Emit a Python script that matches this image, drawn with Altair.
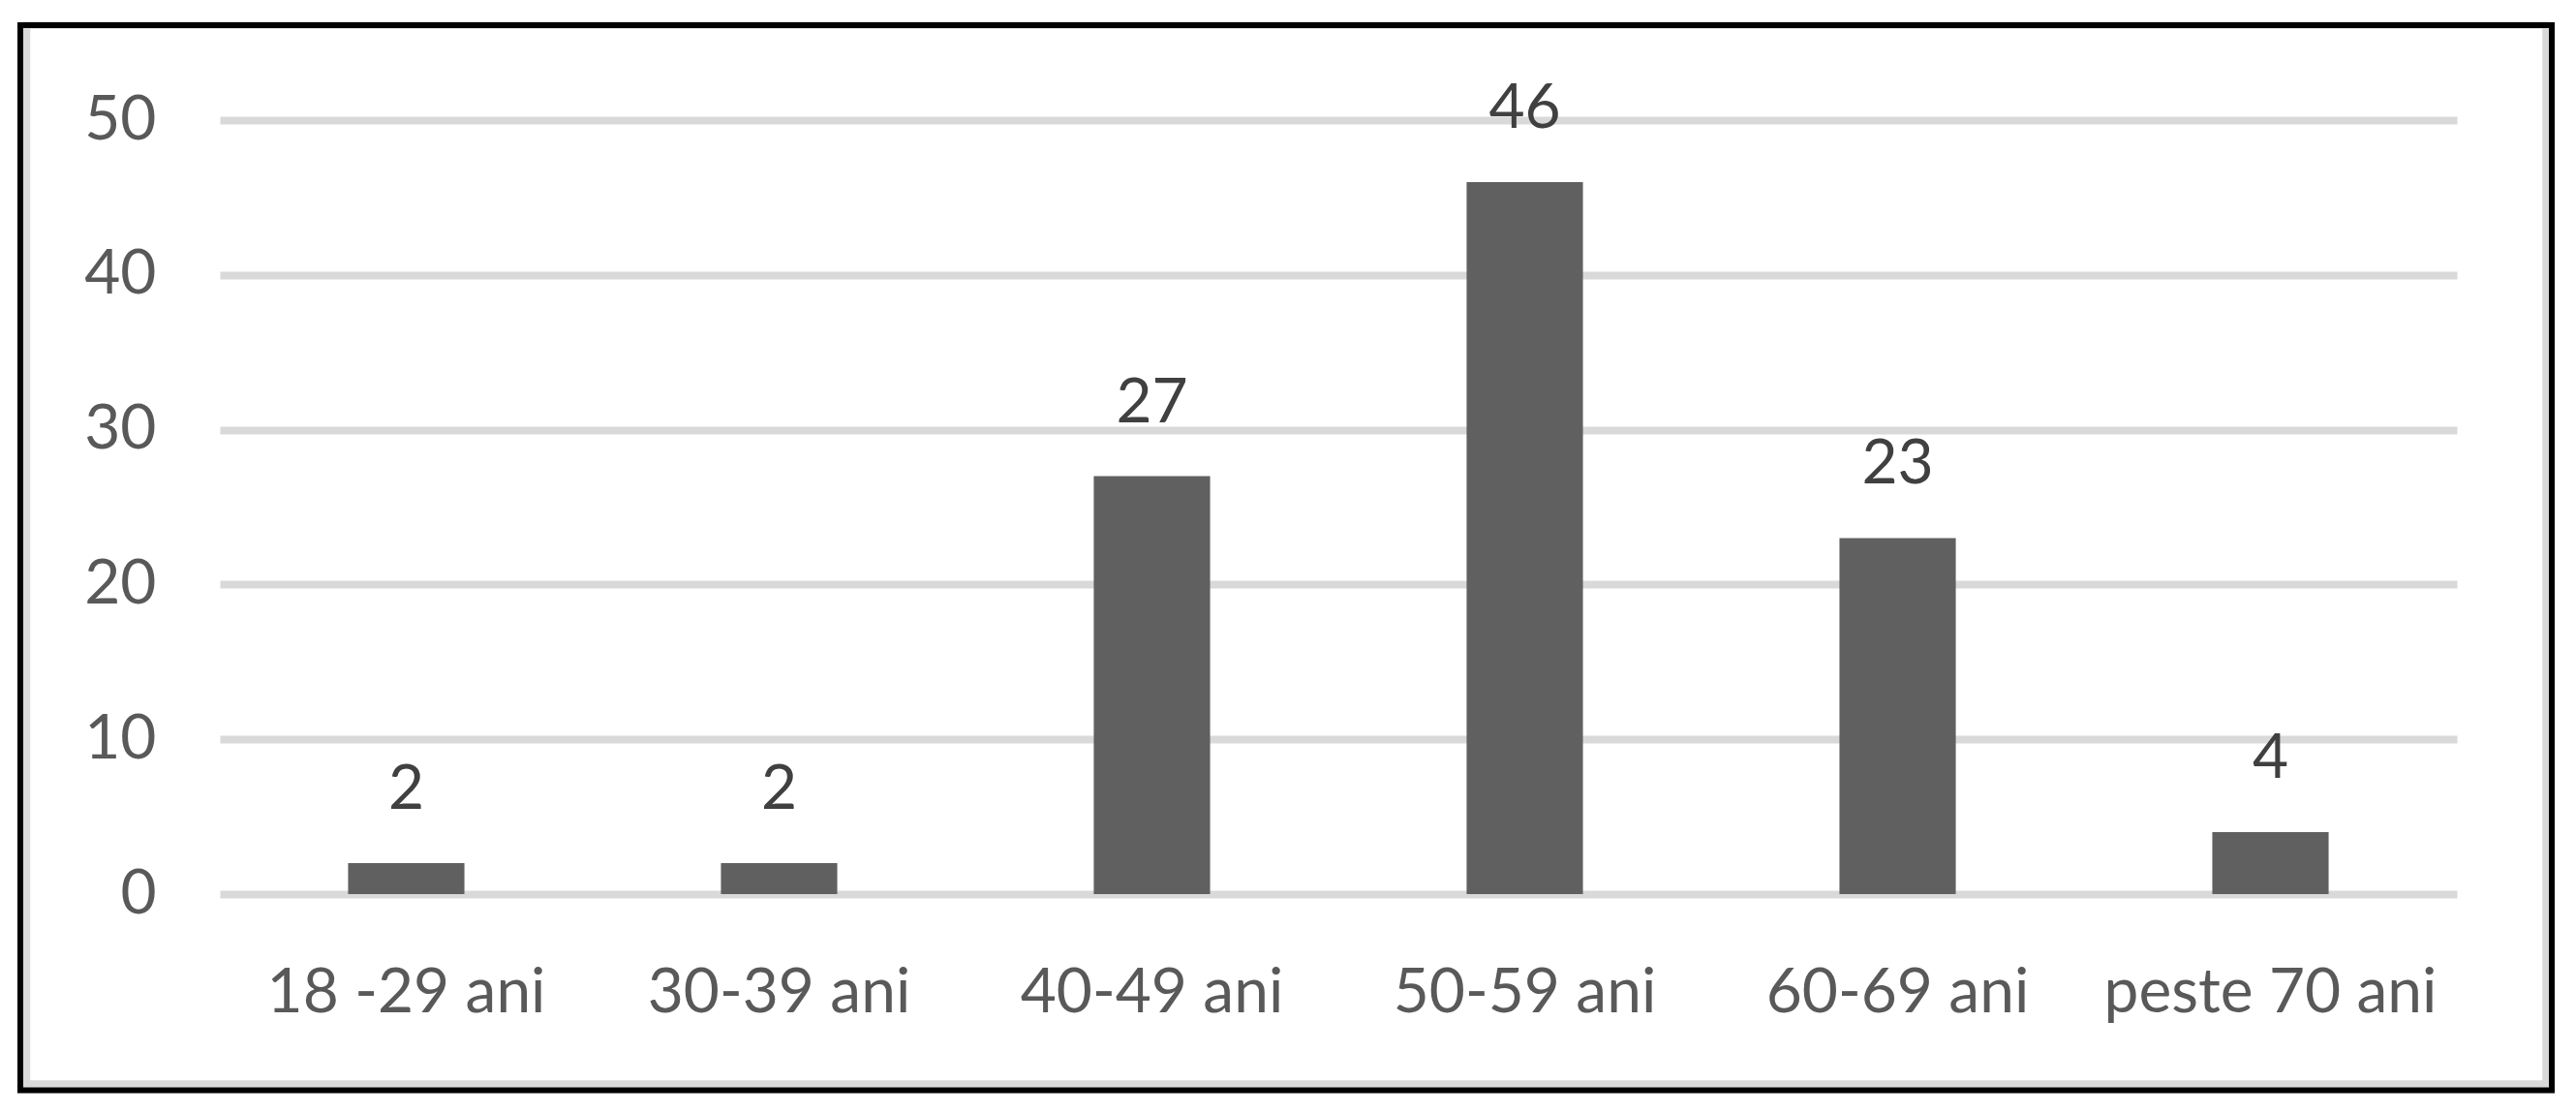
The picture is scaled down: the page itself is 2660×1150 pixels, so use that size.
import altair as alt
import pandas as pd

categories = ["18 -29 ani", "30-39 ani", "40-49 ani", "50-59 ani", "60-69 ani", "peste 70 ani"]
values = [2, 2, 27, 46, 23, 4]
y_ticks = [0, 10, 20, 30, 40, 50]

df = pd.DataFrame({"cat": categories, "val": values})

FONT = "Lato"
W, H = 2310, 799

x_enc = alt.X("cat:N", sort=categories, title=None,
              scale=alt.Scale(paddingInner=0.688, paddingOuter=0.344),
              axis=alt.Axis(labelAngle=0, ticks=False, tickSize=0, domain=False, grid=False,
                            labelFont=FONT, labelFontSize=64, labelColor="#595959",
                            labelLimit=0, labelOverlap=False,
                            labelBaseline="alphabetic", labelPadding=121))
y_enc = alt.Y("val:Q", title=None,
              scale=alt.Scale(domain=[0, 50], nice=False),
              axis=alt.Axis(values=y_ticks, ticks=False, tickSize=0, domain=False,
                            grid=True, gridColor="#d9d9d9", gridWidth=8,
                            labelFont=FONT, labelFontSize=64, labelColor="#595959",
                            labelPadding=66, labelBaseline="middle"))

bars = alt.Chart(df).mark_bar(color="#606060").encode(x=x_enc, y=y_enc)

labels = alt.Chart(df).mark_text(font=FONT, fontSize=64, color="#404040",
                                 baseline="alphabetic", dy=-56).encode(
    x=alt.X("cat:N", sort=categories),
    y=alt.Y("val:Q"),
    text=alt.Text("val:Q"),
)

frame_data = alt.Data(values=[{"k": 1}])
grey_frame = alt.Chart(frame_data).mark_rect(fillOpacity=0, stroke="#d9d9d9", strokeWidth=7.5).encode(
    x=alt.value(-199.5), x2=alt.value(2402), y=alt.value(-98), y2=alt.value(995))
black_frame = alt.Chart(frame_data).mark_rect(fillOpacity=0, stroke="#000000", strokeWidth=6).encode(
    x=alt.value(-206), x2=alt.value(2408), y=alt.value(-98), y2=alt.value(1001.5))

chart = alt.layer(bars, labels, grey_frame, black_frame).properties(
    width=W, height=H,
    autosize=alt.AutoSizeParams(type="none"),
    padding={"left": 219, "top": 116, "right": 105, "bottom": 210},
).configure(background="white", view=alt.ViewConfig(strokeWidth=0, stroke="transparent"))

chart.save("out.html", embed_options={"renderer": "svg", "actions": False})
